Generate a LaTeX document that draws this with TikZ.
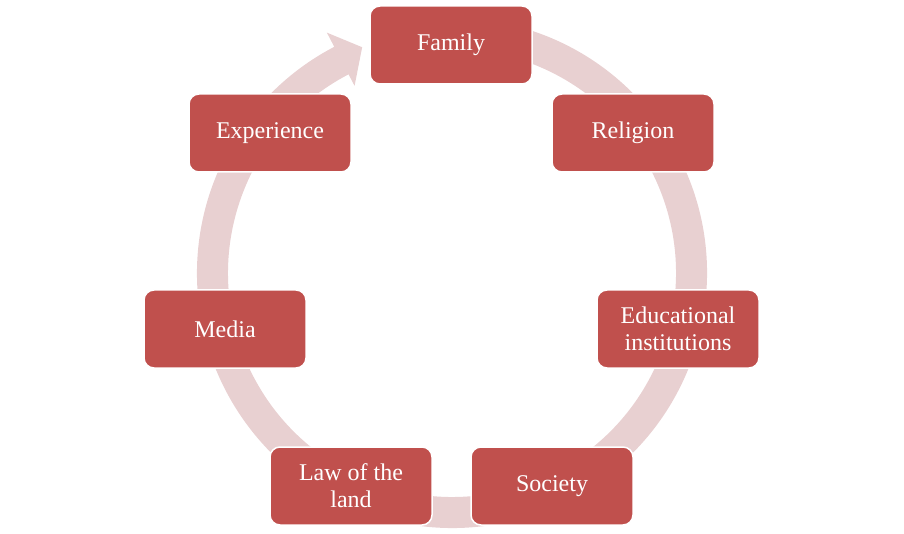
\documentclass[tikz,border=0pt]{standalone}
\usepackage{fontspec}
\setmainfont{Liberation Serif}
\definecolor{nodered}{HTML}{C0504D}
\definecolor{ringpink}{HTML}{E8D0D1}
\begin{document}
\begin{tikzpicture}[x=1pt,y=1pt,
  box/.style={rectangle, rounded corners=10pt, fill=nodered, draw=white,
    line width=1.5pt, minimum width=162pt, minimum height=78pt, text=white,
    font=\fontsize{24}{27}\selectfont, align=center, inner sep=2pt}]
\useasboundingbox (0,0) rectangle (904,533);
\begin{scope}[shift={(452,260)}]
\fill[ringpink] (80:255) arc[start angle=80,end angle=-242.5,radius=255]
  -- (117.5:271) -- (111.7:243) -- (117.5:211) -- (117.5:224)
  arc[start angle=-242.5,end angle=80,radius=224] -- cycle;
\end{scope}
\node[box] (family) at (451,488) {Family};
\node[box] (religion) at (633,400) {Religion};
\node[box] (edu) at (678,204) {Educational\\institutions};
\node[box] (society) at (552,47) {Society};
\node[box] (law) at (351,47) {Law of the\\land};
\node[box] (media) at (225,204) {Media};
\node[box] (experience) at (270,400) {Experience};
\end{tikzpicture}
\end{document}
